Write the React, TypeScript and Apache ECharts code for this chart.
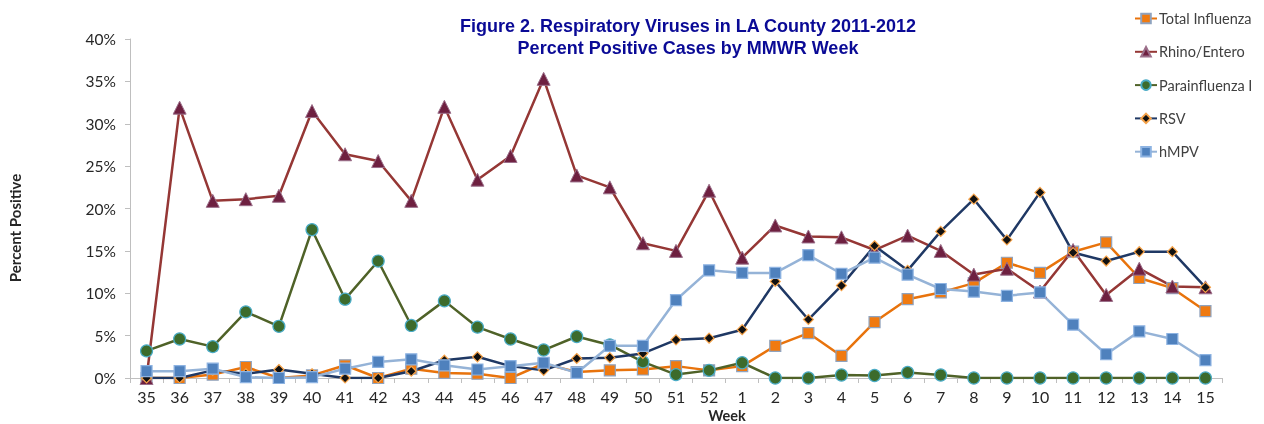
import React, { useEffect, useRef } from "react";
import * as echarts from "echarts";

const weeks = ["35","36","37","38","39","40","41","42","43","44","45","46","47","48","49","50","51","52","1","2","3","4","5","6","7","8","9","10","11","12","13","14","15"];

const totalInfluenza = [0,0,0.4,1.3,0,0.3,1.5,0,1.1,0.6,0.5,0,1.7,0.7,0.9,1.0,1.4,0.9,1.4,3.8,5.3,2.6,6.6,9.3,10.1,11.2,13.6,12.4,14.9,16.0,11.8,10.6,7.9];
const rhinoEntero = [0,31.9,20.9,21.1,21.5,31.5,26.4,25.6,20.9,32.0,23.4,26.2,35.3,23.9,22.5,15.9,15.0,22.1,14.2,18.0,16.7,16.6,15.1,16.8,15.0,12.2,12.9,10.2,15.1,9.8,12.9,10.8,10.7];
const parainfluenza = [3.2,4.6,3.7,7.8,6.1,17.5,9.3,13.8,6.2,9.1,6.0,4.6,3.3,4.9,3.9,1.9,0.4,0.9,1.8,0,0,0.35,0.3,0.65,0.35,0,0,0,0,0,0,0,0];
const rsv = [0,0,0.9,0.5,1.0,0.5,0,0,0.8,2.1,2.5,1.4,0.9,2.3,2.4,2.9,4.5,4.7,5.7,11.4,6.9,10.9,15.6,12.7,17.3,21.1,16.3,21.9,14.8,13.8,14.9,14.9,10.7];
const hmpv = [0.8,0.8,1.1,0.1,0,0.1,1.1,1.9,2.2,1.5,1.0,1.4,1.8,0.6,3.8,3.8,9.2,12.7,12.4,12.4,14.5,12.3,14.2,12.2,10.5,10.2,9.7,10.1,6.3,2.8,5.5,4.6,2.1];

const yTicks = [0, 5, 10, 15, 20, 25, 30, 35, 40];
const titleLines = ["Figure 2. Respiratory Viruses in LA County 2011-2012", "Percent Positive Cases by MMWR Week"];

const FONT = "Lato, 'Open Sans', sans-serif";
const TITLE_FONT = "'Liberation Sans', Lato, sans-serif";

export default function App() {
  const ref = useRef<HTMLDivElement>(null);
  useEffect(() => {
    if (!ref.current) return;
    const chart = echarts.init(ref.current, null, { renderer: "svg" });
    const mk = (name: string, data: number[], lineColor: string, symbol: string, symbolSize: number, fill: string, border: string, bw: number) => ({
      name,
      type: "line",
      data,
      symbol,
      symbolSize,
      showSymbol: true,
      lineStyle: { color: lineColor, width: 2.5 },
      itemStyle: { color: fill, borderColor: border, borderWidth: bw },
    });
    chart.setOption({
      animation: false,
      textStyle: { fontFamily: FONT },
      legend: {
        orient: "vertical",
        left: 1129,
        top: 6,
        itemGap: 18.3,
        itemWidth: 22,
        itemHeight: 12,
        textStyle: { color: "#404040", fontSize: 14.5, lineHeight: 15, fontFamily: FONT, padding: [0, 0, 0, -3] },
        data: ["Total Influenza", "Rhino/Entero", "Parainfluenza I", "RSV", "hMPV"],
      },
      grid: { left: 130, right: 42, top: 39, bottom: 46, containLabel: false },
      xAxis: {
        type: "category",
        data: weeks,
        boundaryGap: true,
        axisLine: { lineStyle: { color: "#BFBFBF", width: 1 } },
        axisTick: { show: true, inside: false, length: 5, lineStyle: { color: "#BFBFBF" }, alignWithLabel: false },
        axisLabel: { color: "#262626", fontSize: 16, margin: 10, fontFamily: FONT, interval: 0 },
      },
      yAxis: {
        type: "value",
        min: yTicks[0],
        max: yTicks[yTicks.length - 1],
        interval: 5,
        axisLine: { show: true, lineStyle: { color: "#BFBFBF", width: 1 } },
        axisTick: { show: true, length: 5, lineStyle: { color: "#BFBFBF" } },
        splitLine: { show: false },
        axisLabel: { color: "#262626", fontSize: 15.5, margin: 14, fontFamily: FONT, formatter: "{value}%" },
      },
      graphic: [
        {
          type: "text",
          x: 688,
          y: 26,
          style: { text: titleLines[0], fill: "#0A0A96", font: "bold 18px " + TITLE_FONT, align: "center", verticalAlign: "middle" },
        },
        {
          type: "text",
          x: 688,
          y: 47.5,
          style: { text: titleLines[1], fill: "#0A0A96", font: "bold 18px " + TITLE_FONT, align: "center", verticalAlign: "middle" },
        },
        {
          type: "text",
          x: 15,
          y: 228,
          rotation: Math.PI / 2,
          style: { text: "Percent Positive", fill: "#262626", font: "bold 15px " + FONT, align: "center", verticalAlign: "middle" },
        },
        {
          type: "text",
          x: 727,
          y: 415,
          style: { text: "Week", fill: "#262626", font: "bold 14.5px " + FONT, align: "center", verticalAlign: "middle" },
        },
      ],
      series: [
        mk("Total Influenza", totalInfluenza, "#E8730C", "rect", 11, "#F07A10", "#8FA3BF", 1.2),
        mk("Rhino/Entero", rhinoEntero, "#953735", "triangle", 13, "#6E2040", "#9B6F8A", 1),
        mk("Parainfluenza I", parainfluenza, "#4F6228", "circle", 12, "#3C6B2C", "#4BACC6", 1.2),
        mk("RSV", rsv, "#1F3864", "diamond", 10, "#111111", "#F6A34A", 1.2),
        mk("hMPV", hmpv, "#95B3D7", "rect", 11, "#4F81BD", "#8DB3E2", 1.2),
      ],
    });
    return () => chart.dispose();
  }, []);
  return <div ref={ref} style={{ width: 1264, height: 424, position: "fixed", left: 0, top: 0 }} />;
}
